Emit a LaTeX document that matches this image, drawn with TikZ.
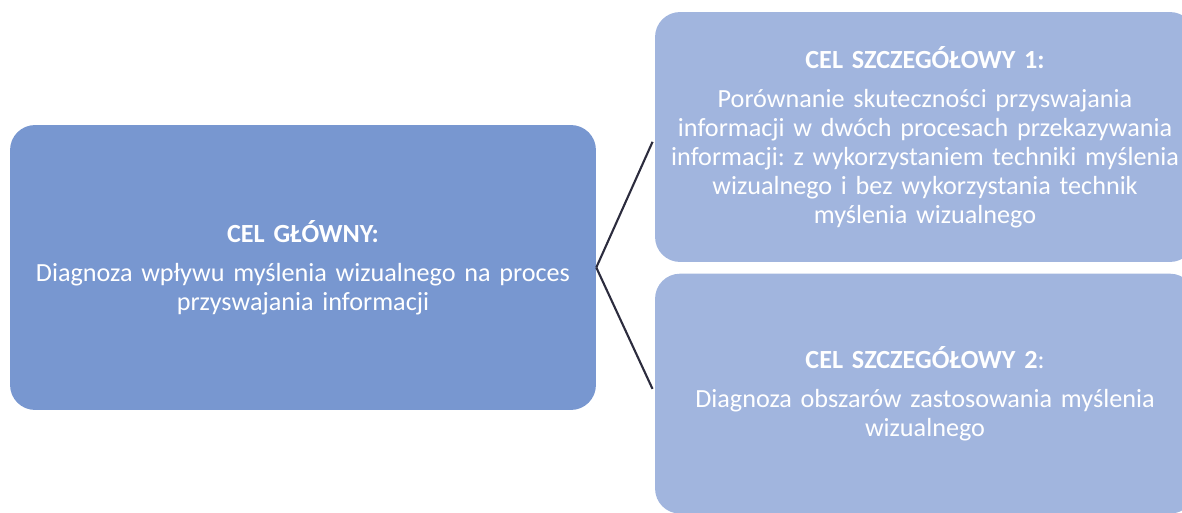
\documentclass[tikz,border=0pt]{standalone}
\usepackage{fontspec}
\setmainfont{Carlito}
\usetikzlibrary{positioning}
\definecolor{mainblue}{RGB}{120,151,208}
\definecolor{subblue}{RGB}{161,181,222}
\definecolor{linkgray}{RGB}{44,44,62}
\frenchspacing

\begin{document}
\begin{tikzpicture}[
  x=0.02cm, y=-0.02cm,
  every node/.style={font=\fontsize{14.9}{16.4}\selectfont, text=white, align=center},
  goal/.style={rounded corners=0.5cm, inner sep=0pt},
  maingoal/.style={goal, fill=mainblue, minimum width=11.72cm, minimum height=5.7cm, text width=11.5cm},
  subgoal/.style={goal, fill=subblue, minimum width=10.8cm, text width=10.7cm},
  link/.style={linkgray, line width=1.2pt, shorten >=3pt}
]
\useasboundingbox (0,0) rectangle (1182,513);
\clip (0,0) rectangle (1182,513);

% ------------------------------------------------------------
% Main goal (left)
% ------------------------------------------------------------
\node[maingoal] (main) at (303,267.5)
  {\textbf{CEL GŁÓWNY:}\\[6pt]
   Diagnoza wpływu myślenia wizualnego na proces\\
   przyswajania informacji};

% ------------------------------------------------------------
% Detailed goals (right, cut off by the frame)
% ------------------------------------------------------------
\node[subgoal, minimum height=5cm] (sub1) at (925,137)
  {\textbf{CEL SZCZEGÓŁOWY 1:}\\[6pt]
   Porównanie skuteczności przyswajania\\
   informacji w dwóch procesach przekazywania\\
   informacji: z wykorzystaniem techniki myślenia\\
   wizualnego i bez wykorzystania technik\\
   myślenia wizualnego};
\node[subgoal, minimum height=4.8cm, below=0.22cm of sub1] (sub2)
  {\textbf{CEL SZCZEGÓŁOWY 2}:\\[6pt]
   Diagnoza obszarów zastosowania myślenia\\
   wizualnego};

% Links
\draw[link] (main.east) -- (sub1.west);
\draw[link] (main.east) -- (sub2.west);

\end{tikzpicture}
\end{document}
